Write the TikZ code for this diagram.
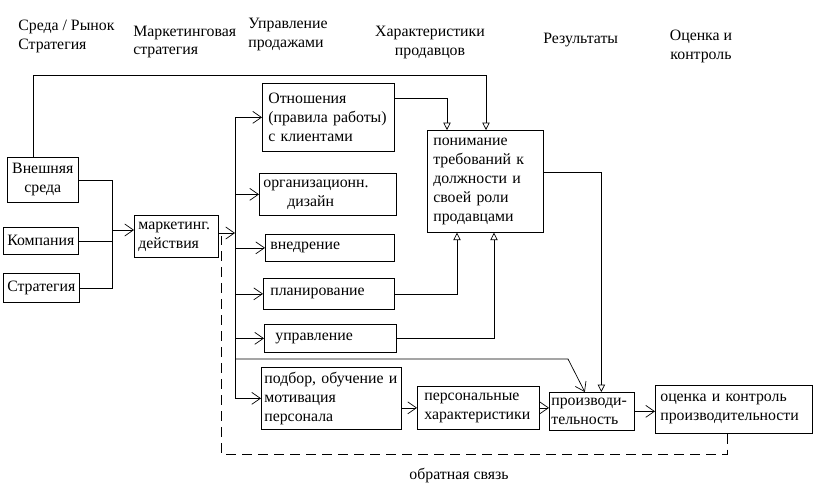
\documentclass[tikz,border=0pt]{standalone}
\usepackage{fontspec}
\setmainfont{Liberation Serif}
\usetikzlibrary{arrows.meta}
\newlength\px
\setlength\px{0.03cm}

\begin{document}
\begin{tikzpicture}
	[x=0.03cm, y=-0.03cm, line width=0.6pt, font=\fontsize{13.5}{16.2}\selectfont,
	box/.style={draw, anchor=north west, align=left, inner xsep=5\px, inner ysep=0pt},
	head/.style={inner sep=0pt, align=left},
	barb/.style={-{Straight Barb[length=2.6mm,width=3.6mm]}},
	tri/.style={-{Triangle[open,length=2.2mm,width=2.2mm]}},
	fb/.style={dash pattern=on 3mm off 1.8mm}]
\useasboundingbox (0,0) rectangle (827,491);

% column heads
\node [head, anchor=west] (h1) at (18,36) {Среда / Рынок\\Стратегия};
\node [head, anchor=west] (h2) at (133,42) {Маркетинговая\\стратегия};
\node [head, anchor=west] (h3) at (248,34.5) {Управление\\продажами};
\node [head, align=center] (h4) at (430,42.5) {Характеристики\\продавцов};
\node [head, anchor=west] (h5) at (543,40) {Результаты};
\node [head, align=center] (h6) at (701,46.5) {Оценка и\\контроль};

% boxes
\node [box, align=center, inner xsep=2\px, text width=67\px, minimum height=45\px] (env) at (7,157) {Внешняя\\среда};
\node [box, align=center, inner xsep=2\px, text width=71\px, minimum height=27\px] (comp) at (3,227) {Компания};
\node [box, align=center, inner xsep=2\px, text width=72\px, minimum height=29\px] (strat) at (3,273) {Стратегия};
\node [box, inner xsep=4\px, text width=76\px, minimum height=42\px] (mkt) at (134,215) {маркетинг.\\действия};
\node [box, inner xsep=6\px, text width=120\px, minimum height=68\px] (rel) at (262,83) {Отношения\\(правила~работы)\\с~клиентами};
\node [box, inner xsep=6\px, text width=104\px, minimum height=102\px] (role) at (427,130) {понимание\\требований~к\\должности~и\\своей~роли\\продавцами};
\node [box, inner xsep=4\px, text width=129\px, minimum height=42\px] (org) at (259,173) {организационн.\\\hspace*{24\px}дизайн};
\node [box, text width=119\px, minimum height=27\px] (impl) at (265,234) {внедрение};
\node [box, inner xsep=7\px, text width=117\px, minimum height=31\px] (plan) at (263,278) {планирование};
\node [box, inner xsep=11\px, text width=110\px, minimum height=28\px] (mgmt) at (264,324) {управление};
\node [box, inner xsep=3\px, text width=134\px, minimum height=62\px] (hire) at (261,367) {подбор,~обучение~и\\мотивация\\персонала};
\node [box, inner xsep=7\px, text width=108\px, minimum height=43\px] (pers) at (417,386) {персональные\\характеристики};
\node [box, inner xsep=2\px, text width=81\px, minimum height=38\px] (prod) at (549,392) {производи-\\тельность};
\node [box, inner xsep=5\px, text width=147\px, minimum height=48\px] (eval) at (655,385) {оценка~и~контроль\\производительности};
\node (fbtext) at (459,476) {обратная связь};

% bends
\coordinate (k1) at (486,75);
\coordinate (k2) at (447,98);
\coordinate (b1) at (112,230);
\coordinate (b2) at (235,233);
\coordinate (k3) at (568,359);
\coordinate (k4) at (457,291);
\coordinate (k5) at (494,336);
\coordinate (k7) at (221,454);
\coordinate (k8) at (221,236);

% environment, company, strategy
\draw [tri] ([xshift=-9.5\px]env.north) |- (k1) -- (k1 |- role.north);
\draw (env.east) -| (b1 |- strat.east) -- (strat.east);
\draw (comp.east) -- (comp.east -| b1);
\draw [barb] (b1) -- (b1 -| mkt.west);

% sales management
\draw [barb] (mkt.east |- b2) -- (b2);
\draw (b2 |- rel.west) -- (b2 |- hire.west);
\foreach \n in {rel,org,impl,plan,mgmt,hire}
	\draw [barb] (b2 |- \n.west) -- (\n.west);
\draw [barb] (b2 |- k3) -- (k3) -- ([xshift=-7\px]prod.north);

% salesperson characteristics
\draw [tri] ([yshift=19\px]rel.east) -| (k2 |- role.north);
\draw [tri] (plan.east) -| (k4 |- role.south);
\draw [tri] (mgmt.east) -| (k5 |- role.south);
\draw [tri] ([yshift=9\px]role.east) -| ([xshift=9.5\px]prod.north);
\draw [barb] (pers.west -| hire.east) -- (pers.west);
\draw [barb] (pers.east) -- (pers.east -| prod.west);
\draw [barb] (prod.east) -- (prod.east -| eval.west);

% feedback
\draw [fb] ([xshift=-6.5\px]eval.south) |- (k7) -- (k8);

\end{tikzpicture}
\end{document}
